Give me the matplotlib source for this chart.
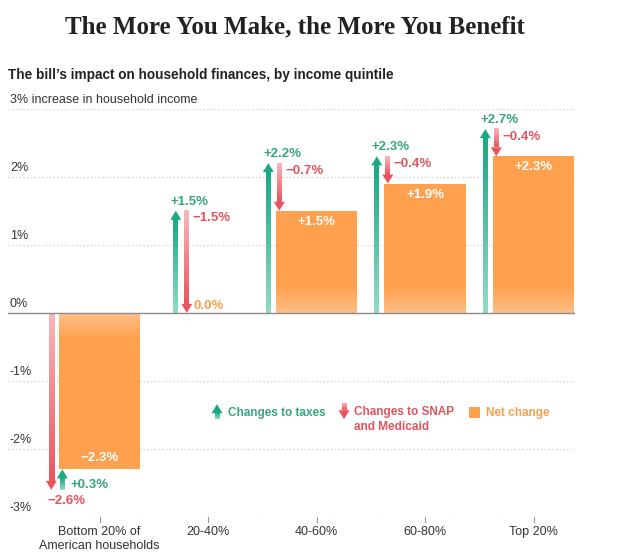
import matplotlib
matplotlib.use("Agg")
import matplotlib.pyplot as plt
import numpy as np
from matplotlib.colors import to_rgba
from matplotlib.patches import Polygon

# data (percent change in household income)
quintiles = ["Bottom 20% of\nAmerican households", "20-40%", "40-60%", "60-80%", "Top 20%"]
tax_change = [0.3, 1.5, 2.2, 2.3, 2.7]
snap_change = [-2.6, -1.5, -0.7, -0.4, -0.4]
net_change = [-2.3, 0.0, 1.5, 1.9, 2.3]
y_ticks = [3, 2, 1, 0, -1, -2, -3]
y_labels = ["3% increase in household income", "2%", "1%", "0%", "-1%", "-2%", "-3%"]

GREEN = "#1aa985"
GREEN_LIGHT = "#93dac7"
GREEN_TXT = "#36a47f"
RED = "#e9555f"
RED_LIGHT = "#f8b7bb"
RED_TXT = "#e0545d"
ORANGE = "#fea04d"
ORANGE_LIGHT = "#ffbd85"
ORANGE_TXT = "#f7a04c"
INK = "#333333"

SANS = "Liberation Sans"

W, H = 625, 553
fig = plt.figure(figsize=(W / 100, H / 100), dpi=100)
fig.patch.set_facecolor("white")

# axes placed so that 3% is at y=108.7px and -3% at y=517px
ax = fig.add_axes([8 / W, 1 - 517 / H, 567 / W, (517 - 108.7) / H])
PX_X = 108.5   # pixels per category
PX_Y = 68.0    # pixels per percent
ax.set_xlim((8 - 99.5) / PX_X, (575 - 99.5) / PX_X)
ax.set_ylim(-3, 3)
ax.axis("off")

def px_x(p):
    return (p - 99.5) / PX_X

def px_y(p):
    return (312.7 - p) / PX_Y

# grid
for t in y_ticks:
    if t == 0:
        continue
    ax.axhline(t, color="#cfcfcf", lw=0.9, ls=(0, (1, 2)), zorder=0)

for t, lab in zip(y_ticks, y_labels):
    ax.annotate(lab, (0, t), xycoords=("axes fraction", "data"),
                xytext=(2, 3), textcoords="offset pixels",
                ha="left", va="bottom", fontsize=9, color=INK, family=SANS)

x = np.arange(len(quintiles))
bar_w = 0.75
shaft_w = 5 / PX_X
head_w = 11 / PX_X
head_len = 9 / PX_Y
LAB = 9.5


def arrow(xc, y0, y1, c_tail, c_head, z=3):
    d = 1 if y1 > y0 else -1
    ys = y1 - d * head_len
    n = 60
    t = np.linspace(0, 1, n)
    ct, ch = np.array(to_rgba(c_tail)), np.array(to_rgba(c_head))
    cols = ct[None, :] * (1 - t[:, None]) + ch[None, :] * t[:, None]
    if d < 0:
        cols = cols[::-1]
    img = cols[:, None, :]
    ax.imshow(img, extent=(xc - shaft_w / 2, xc + shaft_w / 2, min(y0, ys), max(y0, ys)),
              origin="lower", aspect="auto", interpolation="bilinear", zorder=z)
    tri = Polygon([(xc - head_w / 2, ys), (xc + head_w / 2, ys), (xc, y1)],
                  closed=True, color=c_head, lw=0, zorder=z)
    ax.add_patch(tri)


# bars, lighter near the baseline (drawn as thin slices over the bar)
ax.bar(x, net_change, width=bar_w, color=ORANGE, zorder=2, lw=0)
fade = 28 / PX_Y
n_sl = 14
c0, c1 = np.array(to_rgba(ORANGE_LIGHT)), np.array(to_rgba(ORANGE))
for xi, v in zip(x, net_change):
    if v == 0:
        continue
    sgn = 1 if v > 0 else -1
    step = fade / n_sl
    for k in range(n_sl):
        f = k / (n_sl - 1)
        col = c0 * (1 - f) + c1 * f
        ax.bar(xi, sgn * step * 1.05, bottom=sgn * step * k, width=bar_w,
               color=col, lw=0, zorder=2.1)

ax.axhline(0, color="#8a8a8a", lw=1.0, zorder=4)

for i in range(len(quintiles)):
    left = x[i] - bar_w / 2
    shift = 16 / PX_X if net_change[i] == 0 else 0
    x1 = left - 7.5 / PX_X + shift
    x2 = left + 3.5 / PX_X + shift
    tax, snap, net = tax_change[i], snap_change[i], net_change[i]
    if abs(tax) >= abs(snap):
        arrow(x1, 0, tax, GREEN_LIGHT, GREEN)
        arrow(x2, tax, tax + snap, RED_LIGHT, RED)
        ax.annotate(f"+{tax:.1f}%", (x1, tax), xytext=(-5, 9), textcoords="offset pixels",
                    ha="left", va="center", fontsize=LAB, fontweight="bold", color=GREEN_TXT, family=SANS)
        ax.annotate(f"\u2212{abs(snap):.1f}%", (x2, tax), xytext=(6, -7.5), textcoords="offset pixels",
                    ha="left", va="center", fontsize=LAB, fontweight="bold", color=RED_TXT, family=SANS)
    else:
        arrow(x1, 0, snap, RED_LIGHT, RED)
        arrow(x2, snap, snap + tax, GREEN_LIGHT, GREEN)
        ax.annotate(f"\u2212{abs(snap):.1f}%", (x1, snap), xytext=(-4, -11.5), textcoords="offset pixels",
                    ha="left", va="center", fontsize=LAB, fontweight="bold", color=RED_TXT, family=SANS)
        ax.annotate(f"+{tax:.1f}%", (x2, snap), xytext=(8, 5), textcoords="offset pixels",
                    ha="left", va="center", fontsize=LAB, fontweight="bold", color=GREEN_TXT, family=SANS)
    if net == 0:
        ax.annotate(f"{net:.1f}%", (x2, 0), xytext=(7, 7), textcoords="offset pixels",
                    ha="left", va="center", fontsize=LAB, fontweight="bold", color=ORANGE_TXT, family=SANS)
    else:
        sign = "+" if net > 0 else "\u2212"
        ax.annotate(f"{sign}{abs(net):.1f}%", (x[i], net), xytext=(0, -11 if net > 0 else 11),
                    textcoords="offset pixels", ha="center", va="center", fontsize=LAB,
                    fontweight="bold", color="white", family=SANS, zorder=6)

# x ticks and labels
for i, lab in enumerate(quintiles):
    ax.plot([x[i], x[i]], [-3, -3 - 5 / PX_Y], color="#999999", lw=0.8, clip_on=False)
    ax.annotate(lab, (x[i], -3), xytext=(0, -9), textcoords="offset pixels",
                ha="center", va="top", fontsize=9, color=INK, family=SANS,
                linespacing=1.25, annotation_clip=False)

# legend
arrow(px_x(217), px_y(419), px_y(404), GREEN_LIGHT, GREEN)
ax.text(px_x(228), px_y(412.5), "Changes to taxes", ha="left", va="center",
        fontsize=8.5, fontweight="bold", color=GREEN_TXT, family=SANS)
arrow(px_x(344), px_y(404), px_y(419), RED_LIGHT, RED)
ax.text(px_x(354), px_y(406), "Changes to SNAP\nand Medicaid", ha="left", va="top",
        fontsize=8.5, fontweight="bold", color=RED_TXT, family=SANS, linespacing=1.3)
ax.add_patch(plt.Rectangle((px_x(469), px_y(418)), 11 / PX_X, 11 / PX_Y, color=ORANGE, lw=0))
ax.text(px_x(486), px_y(412.5), "Net change", ha="left", va="center",
        fontsize=8.5, fontweight="bold", color=ORANGE_TXT, family=SANS)

# titles
fig.text(295 / W, 1 - 27 / H, "The More You Make, the More You Benefit", ha="center", va="center",
         fontsize=18, fontweight="bold", color="#222222", family="Liberation Serif")
fig.text(8 / W, 1 - 75 / H, "The bill\u2019s impact on household finances, by income quintile",
         ha="left", va="center", fontsize=9.8, fontweight="bold", color="#222222", family=SANS)

fig.savefig("out.png", dpi=100, facecolor="white")
